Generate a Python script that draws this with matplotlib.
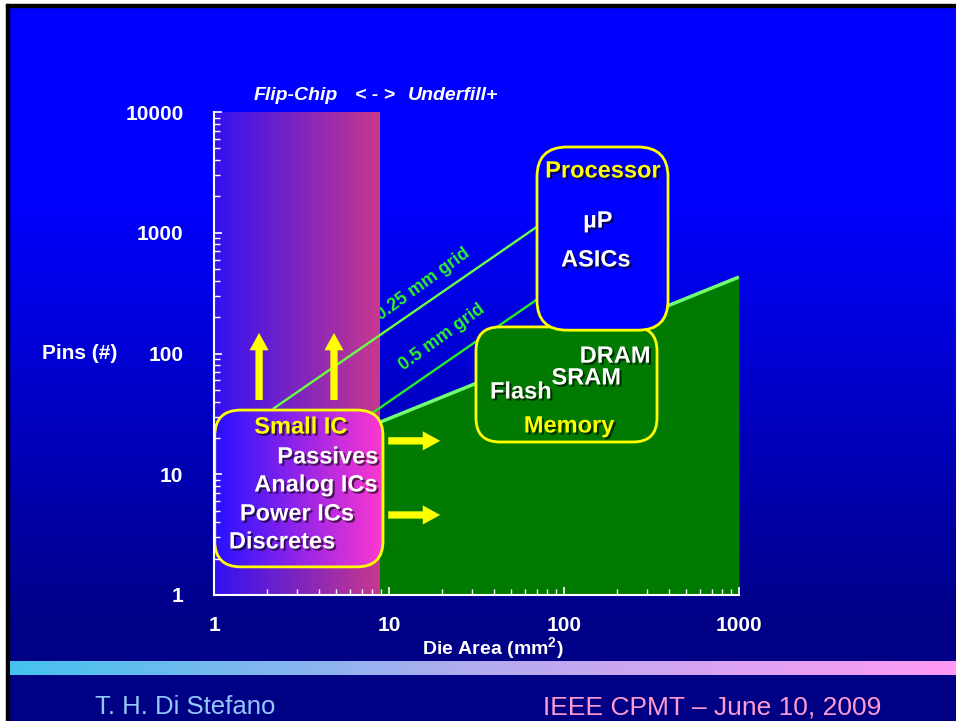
import numpy as np
import matplotlib
matplotlib.use("Agg")
import matplotlib.pyplot as plt
from matplotlib.patches import FancyBboxPatch, Rectangle
from matplotlib.transforms import IdentityTransform
from matplotlib.colors import LinearSegmentedColormap
from matplotlib.ticker import NullFormatter, LogLocator
import matplotlib.patheffects as pe

plt.rcParams['font.family'] = ['Liberation Sans', 'DejaVu Sans']
plt.rcParams['mathtext.fontset'] = 'custom'
plt.rcParams['mathtext.rm'] = 'Liberation Sans:bold'
plt.rcParams['mathtext.bf'] = 'Liberation Sans:bold'

# ---------------- data ----------------
area_ticks = [1, 10, 100, 1000]
area_tick_labels = ['1', '10', '100', '1000']
pins_ticks = [1, 10, 100, 1000, 10000]
pins_tick_labels = ['1', '10', '100', '1000', '10000']

flip_chip_area = [1, 8.8]            # flip-chip / underfill zone
flip_chip_pins = [1, 10000]

memory_edge_area = [1, 1000]         # upper edge of memory region
memory_edge_pins = [7.5, 430]

grid_names = ['0.25 mm grid', '0.5 mm grid']
grid_pins_per_mm2 = [16, 4]
grid_area_start = [2.2, 6.0]
grid_area_end = [80, 80]
grid_label_area = [15.6, 20.1]
grid_label_pins = [376, 137]

box_names = ['Small IC', 'Memory', 'Processor']
box_area = [(1.01, 9.24), (31.4, 340), (70.1, 393)]
box_pins = [(1.71, 34), (18.5, 166), (156, 5130)]
box_title_area = [3.14, 107, 167]
box_title_pins = [24.6, 25.1, 3245]

small_ic_items = ['Passives', 'Analog ICs', 'Power ICs', 'Discretes']
small_ic_area = [4.48, 3.83, 2.98, 2.45]
small_ic_pins = [13.9, 8.15, 4.69, 2.75]

memory_items = ['DRAM', 'SRAM', 'Flash']
memory_area = [196, 134, 56.8]
memory_pins = [95, 62.7, 48]

processor_items = ['\u00b5P', 'ASICs']
processor_area = [156, 152]
processor_pins = [1250, 595]

up_arrow_area = [1.81, 4.85]
up_arrow_pins = [41.2, 148]
right_arrow_pins = [18.9, 4.6]
right_arrow_area = [9.9, 19.6]

# ---------------- figure ----------------
W, H = 956, 721
fig = plt.figure(figsize=(W / 100, H / 100), dpi=100)

bg = fig.add_axes([0, 0, 1, 1])
bg.set_xlim(0, W)
bg.set_ylim(H, 0)
bg.axis('off')

# vertical background gradient
ys = np.arange(H)
bval = np.interp(ys, [0, 200, 620, H], [255, 255, 136, 132]) / 255.0
bgimg = np.zeros((H, 1, 3))
bgimg[:, 0, 2] = bval
bg.imshow(bgimg, extent=(0, W, H, 0), aspect='auto', interpolation='bilinear', zorder=0)
bg.add_patch(Rectangle((0, 0), W, 4, color='white', zorder=1))
bg.add_patch(Rectangle((0, 0), 6, H, color='white', zorder=1))
bg.add_patch(Rectangle((6, 4), W, 3, color='black', zorder=1))
bg.add_patch(Rectangle((6, 4), 3, H, color='black', zorder=1))

# bottom stripe
stripe_cmap = LinearSegmentedColormap.from_list('stripe', ['#45c3ee', '#b4acf0', '#ff9af4'])
stripe = stripe_cmap(np.linspace(0, 1, 512))[None, :, :3]
bg.imshow(stripe, extent=(10, W, 675, 661), aspect='auto', interpolation='bilinear', zorder=1)

bg.text(185, 707, 'T. H. Di Stefano', color='#95c8fa', fontsize=18.5, ha='center', va='center')
bg.text(712, 707, 'IEEE CPMT \u2013 June 10, 2009', color='#ff9bd0', fontsize=19,
        ha='center', va='center')

for s, xc in zip(['Flip-Chip', '< - >', 'Underfill+'], [296, 375, 453]):
    bg.text(xc, 95, s, color='white', fontsize=14, fontweight='bold', style='italic',
            ha='center', va='center')

# ---------------- main axes ----------------
ax = fig.add_axes([214 / W, (H - 595) / H, 525 / W, 483 / H])
ax.set_xscale('log')
ax.set_yscale('log')
ax.set_xlim(1, 1000)
ax.set_ylim(1, 10000)
ax.set_autoscale_on(False)
ax.set_facecolor('none')
for sp in ['top', 'right']:
    ax.spines[sp].set_visible(False)
for sp in ['left', 'bottom']:
    ax.spines[sp].set_color('white')
    ax.spines[sp].set_linewidth(1.5)
    ax.spines[sp].set_zorder(6)
ax.xaxis.set_zorder(6)
ax.yaxis.set_zorder(6)

ax.set_xticks(area_ticks, labels=area_tick_labels)
ax.set_yticks(pins_ticks, labels=pins_tick_labels)
ax.xaxis.set_minor_locator(LogLocator(base=10, subs=np.arange(2, 10)))
ax.yaxis.set_minor_locator(LogLocator(base=10, subs=np.arange(2, 10)))
ax.xaxis.set_minor_formatter(NullFormatter())
ax.yaxis.set_minor_formatter(NullFormatter())
ax.tick_params(which='both', direction='in', color='white', labelcolor='white')
ax.tick_params(which='major', length=6, width=1.2, labelsize=15)
ax.tick_params(which='minor', length=4, width=1)
ax.tick_params(axis='x', which='major', pad=15)
ax.tick_params(axis='y', which='major', pad=22)
for lab in ax.get_xticklabels() + ax.get_yticklabels():
    lab.set_fontweight('bold')

ax.set_ylabel('Pins (#)', rotation=0, color='white', fontsize=15, fontweight='bold',
              ha='center', va='center')
ax.yaxis.set_label_coords(-0.255, 0.5)
ax.set_xlabel('Die Area (mm$^{\\mathbf{2}}$)', color='white', fontsize=14, fontweight='bold',
              ha='center', va='center')
ax.xaxis.set_label_coords(0.531, -0.112)

green = '#007a00'
# memory region
ax.fill_between(memory_edge_area, 1, memory_edge_pins, color=green, lw=0, zorder=1)
ax.plot(memory_edge_area, memory_edge_pins, color='#70ff70', lw=2.5, zorder=1.2,
        solid_capstyle='butt')

# grid labels (behind band)
for name, xa, ya in zip(grid_names, grid_label_area, grid_label_pins):
    ax.text(xa, ya, name, color='#2cf22c', fontsize=13, fontweight='bold', rotation=36,
            rotation_mode='anchor', ha='center', va='center', zorder=1.5)

fig.canvas.draw()
T = ax.transData

# flip-chip band with horizontal gradient
(bx0, by0) = T.transform((flip_chip_area[0], flip_chip_pins[0]))
(bx1, by1) = T.transform((flip_chip_area[1], flip_chip_pins[1]))
band_cmap = LinearSegmentedColormap.from_list('band', ['#3311f2', '#c8388e'])
band = band_cmap(np.linspace(0, 1, 256))[None, :, :3]
ax.imshow(band, extent=(bx0, bx1, by0, by1), transform=IdentityTransform(),
          aspect='auto', interpolation='bilinear', zorder=2, origin='lower')

# grid lines
for k, a0, a1, c in zip(grid_pins_per_mm2, grid_area_start, grid_area_end, ['#66ff44', '#22ee22']):
    ax.plot([a0, a1], [k * a0, k * a1], color=c, lw=1.7, zorder=3)

# boxes
def make_box(area, pins, r, face, z):
    x0, y0 = T.transform((area[0], pins[0]))
    x1, y1 = T.transform((area[1], pins[1]))
    p = FancyBboxPatch((x0 + r, y0 + r), (x1 - x0) - 2 * r, (y1 - y0) - 2 * r,
                       boxstyle=f'round,pad={r},rounding_size={r}',
                       transform=IdentityTransform(), facecolor=face,
                       edgecolor='#ffff00', lw=2, zorder=z, clip_on=False)
    ax.add_patch(p)
    return p, (x0, x1, y0, y1)

sic_patch, (sx0, sx1, sy0, sy1) = make_box(box_area[0], box_pins[0], 26, 'none', 4.2)
sic_cmap = LinearSegmentedColormap.from_list('sic', ['#2811ff', '#ff38d0'])
sic_img = sic_cmap(np.linspace(0, 1, 256))[None, :, :3]
im = ax.imshow(sic_img, extent=(sx0, sx1, sy0, sy1), transform=IdentityTransform(),
               aspect='auto', interpolation='bilinear', zorder=4.1, origin='lower')
im.set_clip_path(sic_patch)
make_box(box_area[1], box_pins[1], 24, green, 4.3)
make_box(box_area[2], box_pins[2], 30, '#0000ff', 4.4)

# arrows
arrow_style = 'simple,head_length=1.0,head_width=1.1,tail_width=0.42'
for xa in up_arrow_area:
    ax.annotate('', xy=(xa, up_arrow_pins[1]), xytext=(xa, up_arrow_pins[0]),
                arrowprops=dict(arrowstyle=arrow_style, mutation_scale=12.5, fc='#ffff00',
                                ec='none', shrinkA=0, shrinkB=0), zorder=5)
for ya in right_arrow_pins:
    ax.annotate('', xy=(right_arrow_area[1], ya), xytext=(right_arrow_area[0], ya),
                arrowprops=dict(arrowstyle=arrow_style, mutation_scale=12.5, fc='#ffff00',
                                ec='none', shrinkA=0, shrinkB=0), zorder=5)

shadow = [pe.withSimplePatchShadow(offset=(1.5, -1.5), shadow_rgbFace='black', alpha=0.6)]

def label(x, y, s, color):
    ax.text(x, y, s, color=color, fontsize=17, fontweight='bold', ha='center', va='center',
            zorder=7, path_effects=shadow)

for s, xa, ya in zip(box_names, box_title_area, box_title_pins):
    label(xa, ya, s, '#ffff00')
for items, xs_, ys_ in [(small_ic_items, small_ic_area, small_ic_pins),
                        (memory_items, memory_area, memory_pins),
                        (processor_items, processor_area, processor_pins)]:
    for s, xa, ya in zip(items, xs_, ys_):
        label(xa, ya, s, 'white')

fig.savefig('out.png', dpi=100)
